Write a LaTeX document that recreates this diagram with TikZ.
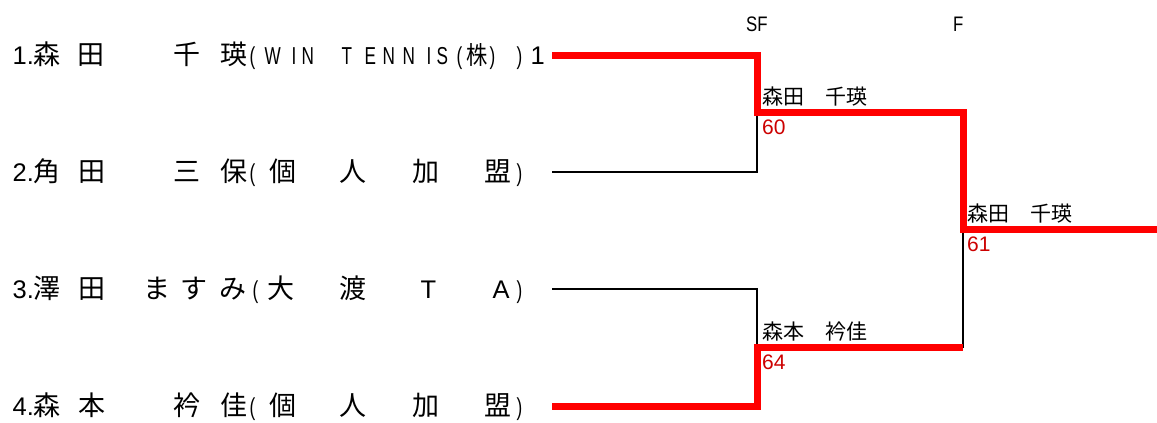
\documentclass[tikz,border=0pt]{standalone}
\usepackage{fontspec}
\setmainfont{Liberation Sans}
\newfontfamily\cjk{Noto Sans CJK JP}
\newfontfamily\cjkn[FakeStretch=0.85]{Noto Sans CJK JP}
\newfontfamily\narrow[FakeStretch=0.7]{Liberation Sans}
\newfontfamily\narrowb[FakeStretch=0.8]{Liberation Sans}
\definecolor{win}{RGB}{255,0,0}
\definecolor{score}{RGB}{204,0,0}
\newcommand\gl[2]{\makebox[0pt][l]{\hspace*{#1pt}#2}}
\newcommand\gj[2]{\gl{#1}{\fontsize{27}{27}\selectfont\cjk #2}}
\newcommand\gk[2]{\gl{#1}{\fontsize{25}{25}\selectfont\cjkn #2}}
\newcommand\gn[2]{\gl{#1}{\fontsize{24.5}{25}\selectfont\narrow #2}}
\begin{document}
\begin{tikzpicture}[x=1pt,y=-1pt,
  row/.style={anchor=base west,inner sep=0pt,font=\fontsize{25.5}{26}\selectfont},
  rnd/.style={anchor=base west,inner sep=0pt,font=\fontsize{21}{21}\selectfont\narrowb},
  lbl/.style={anchor=base west,inner sep=0pt,font=\fontsize{21}{21}\selectfont\cjk},
  sc/.style={anchor=base west,inner sep=0pt,text=score,font=\fontsize{21}{21}\selectfont},
  thinline/.style={draw=black,line width=2pt},
  winline/.style={draw=win,line width=7pt,line join=miter}]
\path[use as bounding box] (0,0) rectangle (1157,423);

% coordinates of the bracket
\coordinate (e1) at (552,55);
\coordinate (c1) at (757,55);
\coordinate (m1) at (757,112.5);
\coordinate (c2) at (757,172);
\coordinate (e2) at (552,172);
\coordinate (n1) at (963,112.5);
\coordinate (f1) at (963,229.5);
\coordinate (w)  at (1157,229.5);
\coordinate (e3) at (552,288.5);
\coordinate (c3) at (757,288.5);
\coordinate (m2) at (757,347.5);
\coordinate (c4) at (757,406);
\coordinate (e4) at (552,406);
\coordinate (n2) at (963,347.5);

% round headers
\node[rnd] (sf) at (746,31) {SF};
\node[rnd] (fi) at (953,31) {F};

% players
\node[row] (r1) at (0,64.5) {\gl{12}{1.}\gj{32.5}{森}\gj{76.5}{田}\gj{172.5}{千}\gj{219.5}{瑛}%
  \gn{249}{(}\gn{264}{W}\gn{291}{I}\gn{301}{N}\gn{341}{T}\gn{364}{E}\gn{382}{N}\gn{402}{N}\gn{426}{I}\gn{436}{S}%
  \gn{456}{(}\gk{465.5}{株}\gn{489}{)}\gn{516}{)}\gl{530}{1}};
\node[row] (r2) at (0,181.5) {\gl{12}{2.}\gj{33}{角}\gj{77.5}{田}\gj{172.5}{三}\gj{219.5}{保}%
  \gn{249}{(}\gj{268.5}{個}\gj{338.5}{人}\gj{411.5}{加}\gj{483.5}{盟}\gn{516}{)}};
\node[row] (r3) at (0,298.5) {\gl{12}{3.}\gj{33}{澤}\gj{77.5}{田}\gj{143}{ま}\gj{179.5}{す}\gj{218.5}{み}%
  \gn{252}{(}\gj{266.5}{大}\gj{338.5}{渡}\gl{420}{T}\gl{492}{A}\gn{516}{)}};
\node[row] (r4) at (0,415.5) {\gl{12}{4.}\gj{33}{森}\gj{77.5}{本}\gj{172.5}{衿}\gj{219.5}{佳}%
  \gn{249}{(}\gj{268.5}{個}\gj{338.5}{人}\gj{411.5}{加}\gj{483.5}{盟}\gn{516}{)}};

% losers' lines
\draw[thinline] (e2) -- (c2) -- (m1);
\draw[thinline] (e3) -- (c3) -- (m2);
\draw[thinline] (n2) -- (f1);
% winners' lines
\draw[winline] (e1) -- (c1) -- (m1) -- (n1) -- (f1) -- (w);
\draw[winline] (e4) -- (c4) -- (m2) -- (n2);

% results
\node[lbl] (w1) at (762,104.5) {森田　千瑛};
\node[sc]  (s1) at (762,134.5) {60};
\node[lbl] (w2) at (967,221.5) {森田　千瑛};
\node[sc]  (s2) at (967,251.5) {61};
\node[lbl] (w3) at (762,339.5) {森本　衿佳};
\node[sc]  (s3) at (762,369) {64};
\end{tikzpicture}
\end{document}
